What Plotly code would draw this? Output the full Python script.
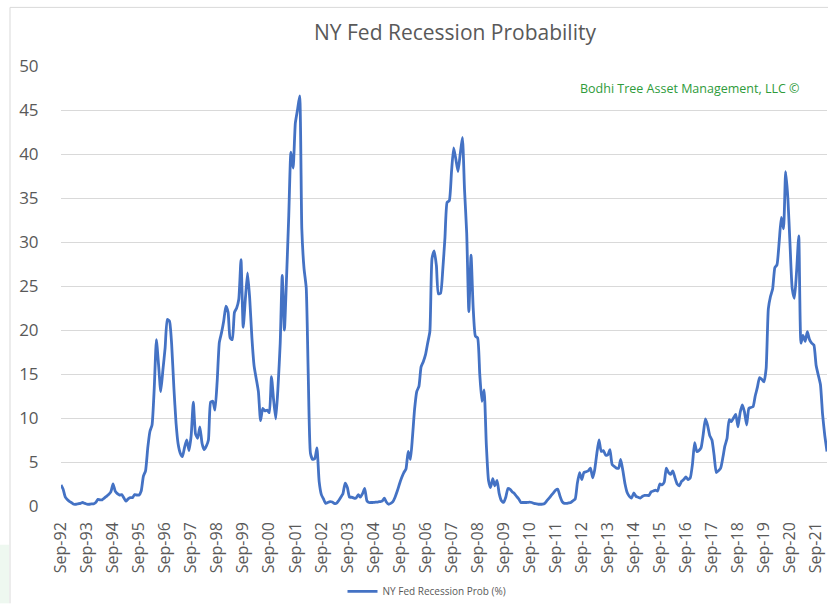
import pandas as pd
import plotly.graph_objects as go

# Monthly NY Fed recession probability (%), Sep-1992 onward
start_month = "1992-09-01"
prob = [
    2.4, 1.9, 1.0, 0.7, 0.5, 0.35, 0.2, 0.2, 0.25, 0.3, 0.4, 0.3,
    0.2, 0.2, 0.25, 0.25, 0.4, 0.75, 0.7, 0.7, 0.9, 1.1, 1.3, 1.6,
    2.5, 1.7, 1.4, 1.25, 1.3, 0.9, 0.55, 0.8, 0.95, 0.95, 1.3, 1.25,
    1.25, 1.7, 3.4, 4.0, 6.6, 8.5, 9.2, 13.4, 18.9, 16.0, 13.0, 15.5,
    18.0, 21.2, 21.0, 18.4, 13.5, 9.4, 7.1, 6.0, 5.6, 6.7, 7.5, 6.3,
    8.0, 11.8, 8.2, 7.7, 9.0, 7.1, 6.4, 6.8, 7.5, 11.8, 11.9, 10.9,
    14.2, 18.6, 19.7, 21.0, 22.7, 22.0, 19.1, 18.9, 22.0, 22.5, 23.5, 28.0,
    20.3, 23.5, 26.5, 23.6, 19.1, 15.9, 14.5, 13.0, 9.7, 11.1, 10.8, 10.9,
    10.6, 14.7, 12.0, 9.9, 13.5, 18.5, 26.2, 20.0, 26.0, 33.0, 40.2, 38.4,
    43.5, 45.0, 46.6, 31.5, 27.0, 24.8, 15.0, 6.0, 5.3, 5.4, 6.6, 2.8,
    1.3, 0.8, 0.3, 0.4, 0.5, 0.45, 0.3, 0.3, 0.6, 1.0, 1.4, 2.6,
    2.1, 1.0, 1.0, 0.9, 0.9, 1.3, 1.0, 1.4, 2.0, 0.6, 0.4, 0.4,
    0.4, 0.45, 0.45, 0.5, 0.55, 0.9, 0.45, 0.2, 0.3, 0.5, 1.0, 1.7,
    2.5, 3.2, 3.8, 4.2, 6.2, 5.3, 7.7, 11.0, 13.0, 13.6, 15.8, 16.4,
    17.2, 18.5, 19.8, 28.1, 29.0, 27.3, 24.1, 24.2, 26.8, 30.5, 34.5, 34.7,
    38.0, 40.7, 39.4, 38.0, 40.0, 41.9, 36.0, 31.0, 22.1, 28.5, 22.5, 19.3,
    19.1, 15.0, 11.9, 13.2, 7.0, 2.9, 2.1, 3.1, 2.3, 2.9, 1.4, 0.6,
    0.4, 1.0, 2.0, 1.9, 1.6, 1.4, 1.1, 0.8, 0.4, 0.4, 0.4, 0.4,
    0.45, 0.4, 0.3, 0.25, 0.2, 0.2, 0.2, 0.3, 0.6, 0.9, 1.2, 1.5,
    1.8, 1.9, 1.1, 0.5, 0.3, 0.3, 0.35, 0.4, 0.6, 0.8, 2.6, 3.8,
    3.0, 3.8, 3.9, 4.0, 4.3, 3.2, 4.1, 6.0, 7.5, 6.2, 6.3, 5.8,
    5.8, 6.4, 4.7, 4.5, 4.3, 4.3, 5.3, 4.0, 2.5, 1.5, 1.1, 0.9,
    1.5, 1.1, 1.0, 0.9, 1.1, 1.2, 1.2, 1.2, 1.6, 1.7, 1.8, 1.7,
    2.5, 2.4, 2.7, 4.3, 3.8, 3.6, 4.0, 3.2, 2.5, 2.3, 2.8, 3.0,
    3.3, 3.0, 3.2, 4.7, 7.2, 6.2, 6.3, 6.6, 8.1, 9.9, 9.2, 8.0,
    7.5, 5.8, 3.8, 4.0, 4.3, 5.5, 6.8, 7.7, 9.8, 9.6, 10.0, 10.4,
    9.0, 10.6, 11.5, 10.7, 9.2, 11.1, 11.2, 11.3, 12.5, 13.5, 14.6, 14.4,
    14.1, 15.6, 22.4, 23.8, 24.7, 27.1, 27.4, 30.0, 32.8, 31.5, 38.0, 35.0,
    29.6, 24.7, 23.6, 26.6, 30.7, 18.5, 19.4, 18.7, 19.8, 18.9, 18.5, 18.3,
    16.0, 14.9, 13.8, 10.4, 8.0, 6.2,
]
tick_years = list(range(1992, 2022))
tick_labels = ["Sep-%02d" % (y % 100) for y in tick_years]
y_ticks = [0, 5, 10, 15, 20, 25, 30, 35, 40, 45, 50]

dates = pd.date_range(start_month, periods=len(prob), freq="MS")
tick_dates = [pd.Timestamp(year=y, month=9, day=1) for y in tick_years]

W, H = 828, 607
L, R, T, B = 61, 1, 66, 98
pw, ph = W - L - R, H - T - B

def px_x(x):
    return (x - L) / pw

def px_y(y):
    return (H - B - y) / ph

fig = go.Figure()
fig.add_trace(go.Scatter(
    x=dates, y=prob, mode="lines", name="NY Fed Recession Prob (%)",
    line=dict(color="#4472C4", width=2.8, shape="spline", smoothing=0.5),
))

grey = "#595959"
fig.update_layout(
    width=W, height=H,
    margin=dict(l=L, r=R, t=T, b=B),
    paper_bgcolor="white", plot_bgcolor="white",
    font=dict(family="Open Sans, sans-serif", color=grey),
    title=dict(text="NY Fed Recession Probability", x=455 / W, xanchor="center",
               y=1 - 33 / H, yanchor="middle", font=dict(size=21, color=grey)),
    showlegend=True,
    legend=dict(orientation="h", x=px_x(427), xanchor="center", y=px_y(595),
                yanchor="middle", font=dict(size=10, color=grey),
                bgcolor="rgba(0,0,0,0)"),
    xaxis=dict(
        range=[dates[0], dates[-1]],
        tickmode="array", tickvals=tick_dates, ticktext=tick_labels,
        tickangle=-90, tickfont=dict(size=16, color=grey),
        showgrid=False, zeroline=False, showline=False,
        ticks="", ticklabelstandoff=12,
    ),
    yaxis=dict(
        range=[0, 50], tickmode="array", tickvals=y_ticks,
        tickfont=dict(size=17, color=grey),
        showgrid=True, gridcolor="#d9d9d9", gridwidth=1,
        zeroline=False, showline=False,
        ticks="outside", ticklen=18, tickcolor="rgba(0,0,0,0)",
    ),
    annotations=[dict(
        text="Bodhi Tree Asset Management, LLC ©", xref="paper", yref="paper",
        x=px_x(690), y=px_y(89), xanchor="center", yanchor="middle",
        showarrow=False, font=dict(size=12.5, color="#2E9B3A"),
    )],
    shapes=[
        dict(type="rect", xref="paper", yref="paper",
             x0=px_x(0), x1=px_x(9), y0=px_y(607), y1=px_y(548),
             fillcolor="#eef8f0", line=dict(width=0), layer="below"),
        dict(type="line", xref="paper", yref="paper",
             x0=px_x(10), x1=px_x(10), y0=px_y(607), y1=px_y(7),
             line=dict(color="#d9d9d9", width=1)),
        dict(type="line", xref="paper", yref="paper",
             x0=px_x(10), x1=px_x(828), y0=px_y(7), y1=px_y(7),
             line=dict(color="#d9d9d9", width=1)),
    ],
)

fig.write_html("out.html")
